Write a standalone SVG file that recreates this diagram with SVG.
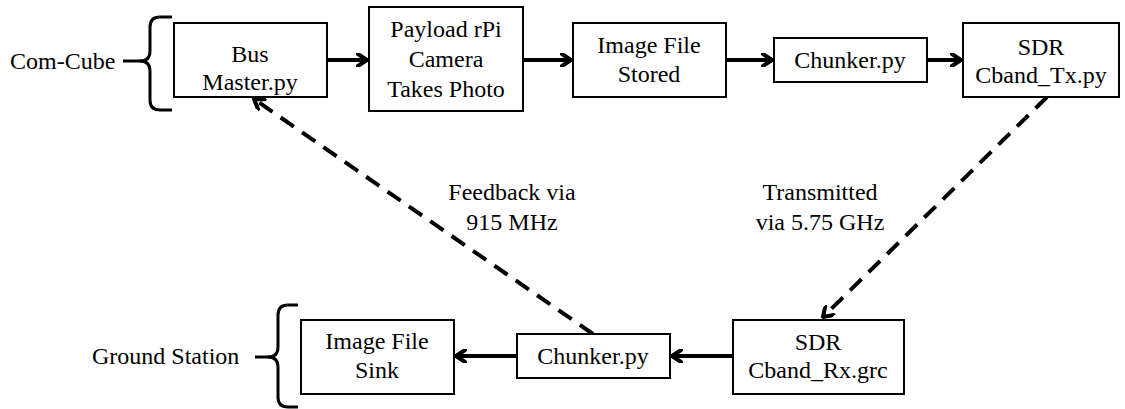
<svg xmlns="http://www.w3.org/2000/svg" width="1125" height="409" viewBox="0 0 1125 409">
<style>
text{font-family:'Liberation Serif','Times New Roman','DejaVu Serif',serif;font-size:24px;fill:#000}
.c{text-anchor:middle}
.box{fill:#fff;stroke:#000;stroke-width:2}
.ln{fill:none;stroke:#000;stroke-width:4}
.dash{fill:none;stroke:#000;stroke-width:4;stroke-dasharray:16 10}
.br{fill:none;stroke:#000;stroke-width:3}
</style>
<defs>
<marker id="ah" markerWidth="14" markerHeight="14" viewBox="0 0 14 14" refX="12" refY="7" orient="auto" markerUnits="userSpaceOnUse">
<path d="M3,1 L12,7 L3,13" fill="none" stroke="#000" stroke-width="4" stroke-linecap="round" stroke-linejoin="round"/>
</marker>
</defs>
<g id="com-cube">
<text x="10" y="69" font-family="Liberation Serif, serif">Com-Cube</text>
<path class="br" d="M172,17 H160 Q150,17 150,27 V51 Q150,61 140,61 Q150,61 150,71 V100 Q150,110 160,110 H172"/>
<line x1="123" y1="61" x2="142" y2="61" stroke="#000" stroke-width="3"/>
</g>
<g id="ground-station">
<text x="92" y="364">Ground Station</text>
<path class="br" d="M298,305 H288 Q278,305 278,315 V347 Q278,357 268,357 Q278,357 278,367 V397 Q278,407 288,407 H298"/>
<line x1="255" y1="357" x2="270" y2="357" stroke="#000" stroke-width="3"/>
</g>
<g id="connectors">
<line class="ln" x1="327" y1="60" x2="367" y2="60" marker-end="url(#ah)"/>
<line class="ln" x1="523" y1="60" x2="571" y2="60" marker-end="url(#ah)"/>
<line class="ln" x1="726" y1="60" x2="772" y2="60" marker-end="url(#ah)"/>
<line class="ln" x1="927" y1="60" x2="961" y2="60" marker-end="url(#ah)"/>
<line class="ln" x1="733" y1="356" x2="672" y2="356" marker-end="url(#ah)"/>
<line class="ln" x1="517" y1="356" x2="456" y2="356" marker-end="url(#ah)"/>
<line class="dash" x1="1047" y1="97" x2="823" y2="317" marker-end="url(#ah)"/>
<line class="dash" x1="593" y1="334" x2="254" y2="99" marker-end="url(#ah)"/>
</g>
<g id="label-feedback">
<text class="c" x="512" y="200">Feedback via</text>
<text class="c" x="512" y="230">915 MHz</text>
</g>
<g id="label-transmitted">
<text class="c" x="820" y="200">Transmitted</text>
<text class="c" x="820" y="230">via 5.75 GHz</text>
</g>
<g id="bus-master">
<rect class="box" x="174" y="23" width="153" height="74"/>
<text class="c" x="250" y="62">Bus</text>
<text class="c" x="250" y="90">Master.py</text>
</g>
<g id="payload">
<rect class="box" x="369" y="7" width="154" height="104"/>
<text class="c" x="446" y="37">Payload rPi</text>
<text class="c" x="446" y="67">Camera</text>
<text class="c" x="446" y="97">Takes Photo</text>
</g>
<g id="image-stored">
<rect class="box" x="573" y="23" width="153" height="74"/>
<text class="c" x="649" y="53">Image File</text>
<text class="c" x="649" y="82">Stored</text>
</g>
<g id="chunker-tx">
<rect class="box" x="774" y="38" width="153" height="44"/>
<text class="c" x="850" y="68">Chunker.py</text>
</g>
<g id="sdr-tx">
<rect class="box" x="963" y="23" width="156" height="74"/>
<text class="c" x="1041" y="55">SDR</text>
<text class="c" x="1041" y="83">Cband_Tx.py</text>
</g>
<g id="image-sink">
<rect class="box" x="301" y="320" width="153" height="74"/>
<text class="c" x="377" y="349">Image File</text>
<text class="c" x="377" y="378">Sink</text>
</g>
<g id="chunker-rx">
<rect class="box" x="517" y="334" width="153" height="44"/>
<text class="c" x="593" y="364">Chunker.py</text>
</g>
<g id="sdr-rx">
<rect class="box" x="733" y="320" width="171" height="74"/>
<text class="c" x="818" y="350">SDR</text>
<text class="c" x="818" y="378">Cband_Rx.grc</text>
</g>
</svg>
